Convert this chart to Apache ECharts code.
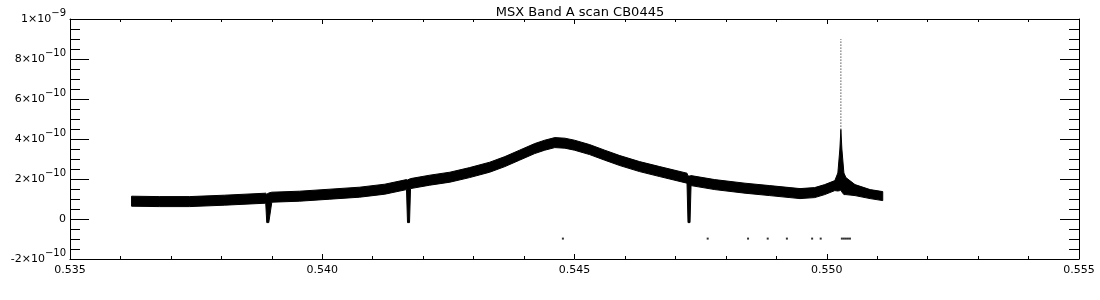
<!DOCTYPE html>
<html>
<head>
<meta charset="utf-8">
<script src="https://cdn.jsdelivr.net/npm/echarts@6/dist/echarts.min.js"></script>
<style>html,body{margin:0;padding:0;background:#fff;}#c{width:1100px;height:300px;}</style>
</head>
<body>
<div id="c"></div>
<script>
const titleText = 'MSX Band A scan CB0445';
const xTickLabels = ['0.535', '0.540', '0.545', '0.550', '0.555'];

// band envelope (upper / lower edge of the noisy trace)
const bandX = [
  0.53622, 0.53677, 0.53737, 0.53806, 0.53888, 0.53890, 0.53894, 0.53900, 0.53955, 0.54015,
  0.54074, 0.54124, 0.54167, 0.54169, 0.54173, 0.54175, 0.54213, 0.54253, 0.54292, 0.54332,
  0.54362, 0.54391, 0.54421, 0.54441, 0.54461, 0.54481, 0.54500, 0.54530, 0.54560, 0.54590,
  0.54629, 0.54669, 0.54723, 0.54725, 0.54729, 0.54731, 0.54778, 0.54838, 0.54887, 0.54927,
  0.54947, 0.54976, 0.54996, 0.55016, 0.55022, 0.55026, 0.55028, 0.55030, 0.55034, 0.55038,
  0.55056, 0.55086, 0.55111];
const bandUpper = [
  1.14e-10, 1.12e-10, 1.12e-10, 1.19e-10, 1.29e-10, 1.24e-10, 1.30e-10, 1.34e-10, 1.39e-10, 1.49e-10,
  1.59e-10, 1.74e-10, 1.97e-10, 1.95e-10, 2.00e-10, 2.02e-10, 2.19e-10, 2.34e-10, 2.57e-10, 2.84e-10,
  3.12e-10, 3.44e-10, 3.77e-10, 3.94e-10, 4.07e-10, 4.04e-10, 3.94e-10, 3.72e-10, 3.44e-10, 3.17e-10,
  2.87e-10, 2.62e-10, 2.29e-10, 2.15e-10, 2.15e-10, 2.17e-10, 1.97e-10, 1.79e-10, 1.67e-10, 1.57e-10,
  1.52e-10, 1.57e-10, 1.72e-10, 1.92e-10, 2.30e-10, 3.50e-10, 4.47e-10, 3.50e-10, 2.30e-10, 2.07e-10,
  1.72e-10, 1.47e-10, 1.37e-10];
const bandLower = [
  0.64e-10, 0.62e-10, 0.62e-10, 0.69e-10, 0.79e-10, -0.18e-10, -0.18e-10, 0.84e-10, 0.89e-10, 0.99e-10,
  1.09e-10, 1.24e-10, 1.47e-10, -0.18e-10, -0.18e-10, 1.52e-10, 1.69e-10, 1.84e-10, 2.07e-10, 2.34e-10,
  2.62e-10, 2.94e-10, 3.27e-10, 3.44e-10, 3.57e-10, 3.54e-10, 3.44e-10, 3.22e-10, 2.94e-10, 2.67e-10,
  2.37e-10, 2.12e-10, 1.79e-10, -0.18e-10, -0.18e-10, 1.67e-10, 1.47e-10, 1.29e-10, 1.17e-10, 1.07e-10,
  1.02e-10, 1.07e-10, 1.22e-10, 1.42e-10, 1.40e-10, 1.42e-10, 1.45e-10, 1.35e-10, 1.22e-10, 1.22e-10,
  1.17e-10, 1.02e-10, 0.92e-10];

// thin dotted upper part of the spike
const spikeX = [0.55028, 0.55028];
const spikeY = [4.47e-10, 9.0e-10];

// isolated points near -1e-10
const dotX = [0.54477, 0.54764, 0.54844, 0.54883, 0.54921, 0.54971, 0.54988, 0.55030, 0.55034, 0.55038, 0.55042, 0.55046];
const dotY = [-0.98e-10, -0.98e-10, -0.98e-10, -0.98e-10, -0.98e-10, -0.98e-10, -0.98e-10, -0.98e-10, -0.98e-10, -0.98e-10, -0.98e-10, -0.98e-10];

const FONT = 'DejaVu Sans';

function yLabel(v) {
  const n = Math.round(v / 1e-10);
  if (n === 0) return '{b|0}';
  if (n === 10) return '{b|1×10}{s|−9}';
  return '{b|' + (n < 0 ? '-' + (-n) : n) + '×10}{s|−10}';
}

const chart = echarts.init(document.getElementById('c'), null, {renderer: 'canvas'});

const xCommon = {
  type: 'value', min: 0.535, max: 0.555, interval: 0.005,
  axisLine: {show: true, onZero: false, lineStyle: {color: '#000', width: 1}},
  axisTick: {show: true, inside: true, length: 5, lineStyle: {color: '#000'}},
  minorTick: {show: true, splitNumber: 5, length: 3, lineStyle: {color: '#000'}},
  splitLine: {show: false}
};
const yCommon = {
  type: 'value', min: -2e-10, max: 1e-9, interval: 2e-10,
  axisLine: {show: true, onZero: false, lineStyle: {color: '#000', width: 1}},
  axisTick: {show: true, inside: true, length: 19, lineStyle: {color: '#000'}},
  minorTick: {show: true, splitNumber: 4, length: 10, lineStyle: {color: '#000'}},
  splitLine: {show: false}
};

chart.setOption({
  animation: false,
  backgroundColor: '#fff',
  title: {
    text: titleText, left: 575, top: 1, textAlign: 'center',
    textStyle: {fontFamily: FONT, fontSize: 13, fontWeight: 'normal', color: '#000'}
  },
  grid: {left: 70, right: 21, top: 19, bottom: 41},
  xAxis: [
    Object.assign({}, xCommon, {
      position: 'bottom',
      axisLabel: {
        show: true, margin: 6, color: '#000', fontFamily: FONT, fontSize: 11,
        showMinLabel: true, showMaxLabel: true,
        formatter: function (v) {
          const i = Math.round((v - 0.535) / 0.005);
          return xTickLabels[i] !== undefined ? xTickLabels[i] : '';
        }
      }
    }),
    Object.assign({}, xCommon, {position: 'top', axisLabel: {show: false}})
  ],
  yAxis: [
    Object.assign({}, yCommon, {
      position: 'left',
      axisLabel: {
        show: true, margin: 4, color: '#000', showMinLabel: true, showMaxLabel: true,
        formatter: yLabel,
        rich: {
          b: {fontFamily: FONT, fontSize: 11, color: '#000'},
          s: {fontFamily: FONT, fontSize: 10, color: '#000', padding: [0, 0, 12, 0]}
        }
      }
    }),
    Object.assign({}, yCommon, {position: 'right', axisLabel: {show: false}})
  ],
  series: [
    {
      type: 'custom',
      xAxisIndex: 0, yAxisIndex: 0,
      silent: true,
      data: [[bandX[0], bandUpper[0]]],
      renderItem: function (params, api) {
        const pts = [];
        for (let i = 0; i < bandX.length; i++) pts.push(api.coord([bandX[i], bandUpper[i]]));
        for (let i = bandX.length - 1; i >= 0; i--) pts.push(api.coord([bandX[i], bandLower[i]]));
        return {
          type: 'polygon',
          shape: {points: pts, smooth: 0},
          style: {fill: '#000', stroke: '#000', lineWidth: 1, lineJoin: 'bevel'}
        };
      }
    },
    {
      type: 'line',
      xAxisIndex: 0, yAxisIndex: 0,
      data: spikeX.map((x, i) => [x, spikeY[i]]),
      symbol: 'none',
      lineStyle: {color: '#000', width: 1, type: [1, 2]},
      silent: true
    },
    {
      type: 'scatter',
      xAxisIndex: 0, yAxisIndex: 0,
      data: dotX.map((x, i) => [x, dotY[i]]),
      symbol: 'rect', symbolSize: [2, 2],
      itemStyle: {color: '#000'},
      silent: true
    }
  ]
});
</script>
</body>
</html>
